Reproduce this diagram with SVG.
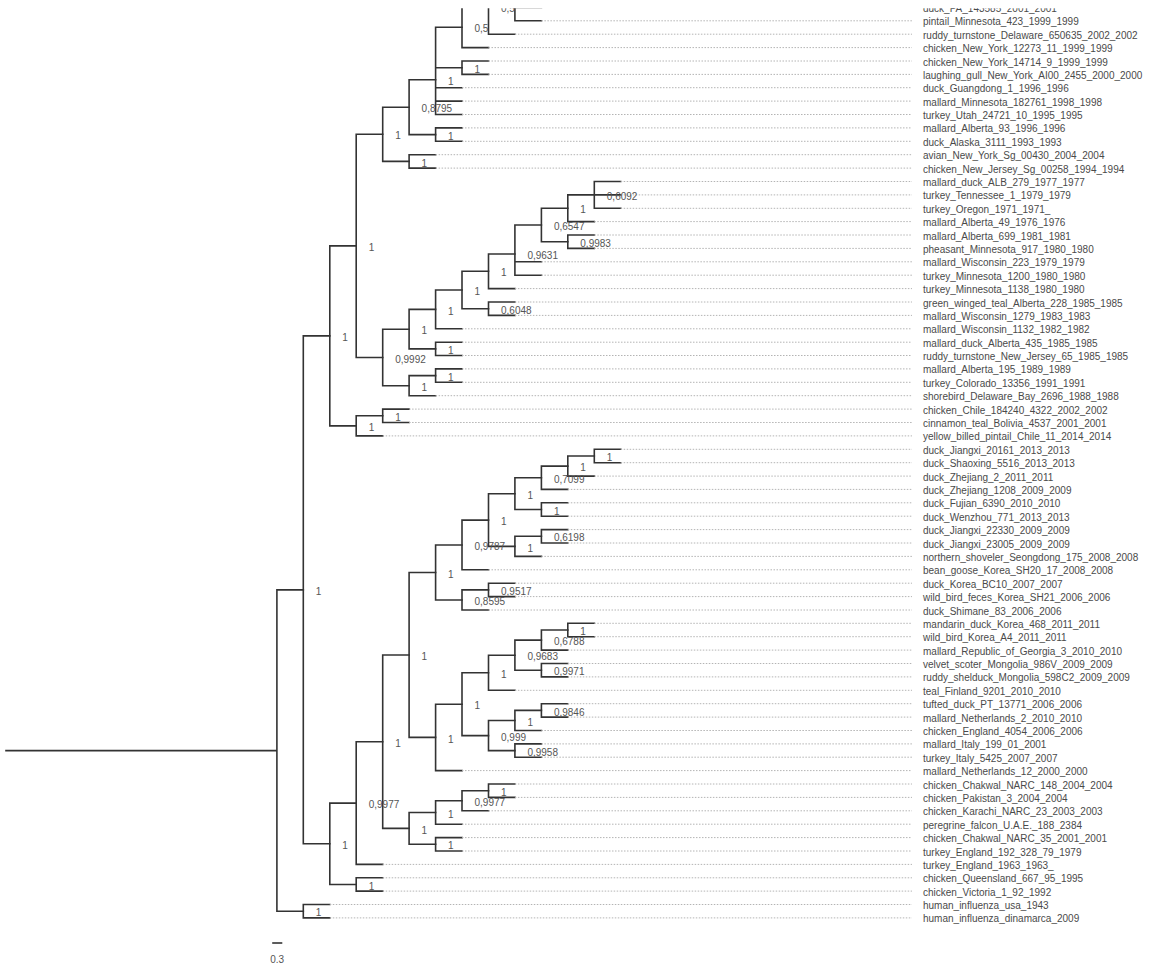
<svg xmlns="http://www.w3.org/2000/svg" width="1151" height="970" viewBox="0 0 1151 970">
<style>
.br{fill:none;stroke:#333;stroke-width:1.6;stroke-linecap:square}
.dt{fill:none;stroke:#b4b4b4;stroke-width:1;stroke-dasharray:1.5 1.5}
.tl{font-family:"Liberation Sans",Arial,sans-serif;font-size:10px;fill:#4a4a4a}
.nl{font-family:"Liberation Sans",Arial,sans-serif;font-size:10px;fill:#555}
</style>
<defs><clipPath id="cut"><rect x="0" y="8.2" width="1151" height="962"/></clipPath></defs>
<rect width="1151" height="970" fill="#fff"/>
<g clip-path="url(#cut)">
<g id="connectors">
<path class="br" d="M6,750.6H276.9 M276.9,589.9V911.2 M276.9,589.9H303.3 M276.9,911.2H303.3"/>
<path class="br" d="M303.3,904.5V917.9 M303.3,904.5H329.8 M303.3,917.9H329.8"/>
<path class="br" d="M303.3,335.9V843.8 M303.3,335.9H329.8 M303.3,843.8H329.8"/>
<path class="br" d="M329.8,245.9V425.9 M329.8,245.9H356.2 M329.8,425.9H356.2"/>
<path class="br" d="M356.2,134.3V357.5 M356.2,134.3H382.7 M356.2,357.5H382.7"/>
<path class="br" d="M356.2,415.8V435.9 M356.2,415.8H382.7 M356.2,435.9H382.7"/>
<path class="br" d="M382.7,409.1V422.5 M382.7,409.1H409.1 M382.7,422.5H409.1"/>
<path class="br" d="M382.7,107.2V161.4 M382.7,107.2H409.1 M382.7,161.4H409.1"/>
<path class="br" d="M409.1,154.7V168.1 M409.1,154.7H435.6 M409.1,168.1H435.6"/>
<path class="br" d="M409.1,79.7V134.6 M409.1,79.7H435.6 M409.1,134.6H435.6"/>
<path class="br" d="M435.6,127.9V141.3 M435.6,127.9H462 M435.6,141.3H462"/>
<path class="br" d="M435.6,27.3V114.5 M435.6,27.3H462 M435.6,67.7H462 M435.6,87.7H462 M435.6,101.1H462 M435.6,114.5H462"/>
<path class="br" d="M462,61V74.4 M462,61H488.5 M462,74.4H488.5"/>
<path class="br" d="M462,7V47.6 M462,7H488.5 M462,47.6H488.5"/>
<path class="br" d="M488.5,-20.2V34.2 M488.5,-20.2H514.9 M488.5,34.2H514.9"/>
<path class="br" d="M514.9,-60V20.8 M514.9,7.4H541.4 M514.9,20.8H541.4"/>
<path class="br" d="M382.7,329.2V385.7 M382.7,329.2H409.1 M382.7,385.7H409.1"/>
<path class="br" d="M409.1,375.6V395.7 M409.1,375.6H435.6 M409.1,395.7H435.6"/>
<path class="br" d="M435.6,368.9V382.3 M435.6,368.9H462 M435.6,382.3H462"/>
<path class="br" d="M409.1,309.4V348.9 M409.1,309.4H435.6 M409.1,348.9H435.6"/>
<path class="br" d="M435.6,342.2V355.5 M435.6,342.2H462 M435.6,355.5H462"/>
<path class="br" d="M435.6,290V328.8 M435.6,290H462 M435.6,328.8H462"/>
<path class="br" d="M462,271.3V308.7 M462,271.3H488.5 M462,308.7H488.5"/>
<path class="br" d="M488.5,302V315.4 M488.5,302H514.9 M488.5,315.4H514.9"/>
<path class="br" d="M488.5,254V288.6 M488.5,254H514.9 M488.5,288.6H514.9"/>
<path class="br" d="M514.9,225V275.2 M514.9,225H541.4 M514.9,261.8H541.4 M514.9,275.2H541.4"/>
<path class="br" d="M541.4,208.3V241.7 M541.4,208.3H567.8 M541.4,241.7H567.8"/>
<path class="br" d="M567.8,235V248.4 M567.8,235H594.3 M567.8,248.4H594.3"/>
<path class="br" d="M567.8,194.9V221.6 M567.8,194.9H594.3 M567.8,221.6H594.3"/>
<path class="br" d="M594.3,181.5V208.3 M594.3,181.5H620.7 M594.3,194.9H620.7 M594.3,208.3H620.7"/>
<path class="br" d="M329.8,803.1V884.5 M329.8,803.1H356.2 M329.8,884.5H356.2"/>
<path class="br" d="M356.2,877.8V891.1 M356.2,877.8H382.7 M356.2,891.1H382.7"/>
<path class="br" d="M356.2,741.7V864.4 M356.2,741.7H382.7 M356.2,864.4H382.7"/>
<path class="br" d="M382.7,655V828.4 M382.7,655H409.1 M382.7,828.4H409.1"/>
<path class="br" d="M409.1,812.5V844.3 M409.1,812.5H435.6 M409.1,844.3H435.6"/>
<path class="br" d="M435.6,837.6V851 M435.6,837.6H462 M435.6,851H462"/>
<path class="br" d="M435.6,800.8V824.2 M435.6,800.8H462 M435.6,824.2H462"/>
<path class="br" d="M462,790.7V810.8 M462,790.7H488.5 M462,810.8H488.5"/>
<path class="br" d="M488.5,784V797.4 M488.5,784H514.9 M488.5,797.4H514.9"/>
<path class="br" d="M409.1,572.5V737.4 M409.1,572.5H435.6 M409.1,737.4H435.6"/>
<path class="br" d="M435.6,545V600 M435.6,545H462 M435.6,600H462"/>
<path class="br" d="M462,589.9V610 M462,589.9H488.5 M462,610H488.5"/>
<path class="br" d="M488.5,583.2V596.6 M488.5,583.2H514.9 M488.5,596.6H514.9"/>
<path class="br" d="M462,520.1V569.8 M462,520.1H488.5 M462,569.8H488.5"/>
<path class="br" d="M488.5,493.7V546.4 M488.5,493.7H514.9 M488.5,546.4H514.9"/>
<path class="br" d="M514.9,536.3V556.4 M514.9,536.3H541.4 M514.9,556.4H541.4"/>
<path class="br" d="M541.4,529.6V543 M541.4,529.6H567.8 M541.4,543H567.8"/>
<path class="br" d="M514.9,477.8V509.5 M514.9,477.8H541.4 M514.9,509.5H541.4"/>
<path class="br" d="M541.4,502.8V516.2 M541.4,502.8H567.8 M541.4,516.2H567.8"/>
<path class="br" d="M541.4,466.1V489.4 M541.4,466.1H567.8 M541.4,489.4H567.8"/>
<path class="br" d="M567.8,456V476.1 M567.8,456H594.3 M567.8,476.1H594.3"/>
<path class="br" d="M594.3,449.3V462.7 M594.3,449.3H620.7 M594.3,462.7H620.7"/>
<path class="br" d="M435.6,704.2V770.6 M435.6,704.2H462 M435.6,770.6H462"/>
<path class="br" d="M462,672.8V735.6 M462,672.8H488.5 M462,735.6H488.5"/>
<path class="br" d="M488.5,720.5V750.6 M488.5,720.5H514.9 M488.5,750.6H514.9"/>
<path class="br" d="M514.9,743.9V757.2 M514.9,743.9H541.4 M514.9,757.2H541.4"/>
<path class="br" d="M514.9,710.4V730.5 M514.9,710.4H541.4 M514.9,730.5H541.4"/>
<path class="br" d="M541.4,703.7V717.1 M541.4,703.7H567.8 M541.4,717.1H567.8"/>
<path class="br" d="M488.5,655.2V690.3 M488.5,655.2H514.9 M488.5,690.3H514.9"/>
<path class="br" d="M514.9,640.1V670.2 M514.9,640.1H541.4 M514.9,670.2H541.4"/>
<path class="br" d="M541.4,663.5V676.9 M541.4,663.5H567.8 M541.4,676.9H567.8"/>
<path class="br" d="M541.4,630V650.1 M541.4,630H567.8 M541.4,650.1H567.8"/>
<path class="br" d="M567.8,623.3V636.7 M567.8,623.3H594.3 M567.8,636.7H594.3"/>
<path class="dt" d="M541.4,7.4H912 M541.4,20.8H912 M514.9,34.2H912 M488.5,47.6H912 M488.5,61H912 M488.5,74.4H912 M462,87.7H912 M462,101.1H912 M462,114.5H912 M462,127.9H912 M462,141.3H912 M435.6,154.7H912 M435.6,168.1H912 M620.7,181.5H912 M620.7,194.9H912 M620.7,208.3H912 M594.3,221.6H912 M594.3,235H912 M594.3,248.4H912 M541.4,261.8H912 M541.4,275.2H912 M514.9,288.6H912 M514.9,302H912 M514.9,315.4H912 M462,328.8H912 M462,342.2H912 M462,355.5H912 M462,368.9H912 M462,382.3H912 M435.6,395.7H912 M409.1,409.1H912 M409.1,422.5H912 M382.7,435.9H912 M620.7,449.3H912 M620.7,462.7H912 M594.3,476.1H912 M567.8,489.4H912 M567.8,502.8H912 M567.8,516.2H912 M567.8,529.6H912 M567.8,543H912 M541.4,556.4H912 M488.5,569.8H912 M514.9,583.2H912 M514.9,596.6H912 M488.5,610H912 M594.3,623.3H912 M594.3,636.7H912 M567.8,650.1H912 M567.8,663.5H912 M567.8,676.9H912 M514.9,690.3H912 M567.8,703.7H912 M567.8,717.1H912 M541.4,730.5H912 M541.4,743.9H912 M541.4,757.2H912 M462,770.6H912 M514.9,784H912 M514.9,797.4H912 M488.5,810.8H912 M462,824.2H912 M462,837.6H912 M462,851H912 M382.7,864.4H912 M382.7,877.8H912 M382.7,891.1H912 M329.8,904.5H912 M329.8,917.9H912"/>
</g>
<g id="nodes">
<g id="n-b"><text class="nl" x="501" y="12.1">0,5</text></g>
<g id="n-c"><text class="nl" x="474.5" y="32.4">0,5</text></g>
<g id="n-d"><text class="nl" x="474.5" y="72.8">1</text></g>
<g id="n-e"><text class="nl" x="448.1" y="84.8">1</text></g>
<g id="n-f"><text class="nl" x="448.1" y="139.7">1</text></g>
<g id="n-g"><text class="nl" x="421.6" y="112.3">0,8795</text></g>
<g id="n-h"><text class="nl" x="421.6" y="166.5">1</text></g>
<g id="n-i"><text class="nl" x="395.2" y="139.4">1</text></g>
<g id="n-j"><text class="nl" x="606.8" y="200">0,6092</text></g>
<g id="n-k"><text class="nl" x="580.3" y="213.4">1</text></g>
<g id="n-l"><text class="nl" x="580.3" y="246.8">0,9983</text></g>
<g id="n-m"><text class="nl" x="553.9" y="230.1">0,6547</text></g>
<g id="n-n"><text class="nl" x="527.4" y="259.1">0,9631</text></g>
<g id="n-o"><text class="nl" x="501" y="276.4">1</text></g>
<g id="n-p"><text class="nl" x="501" y="313.8">0,6048</text></g>
<g id="n-q"><text class="nl" x="474.5" y="295.1">1</text></g>
<g id="n-r"><text class="nl" x="448.1" y="314.5">1</text></g>
<g id="n-s"><text class="nl" x="448.1" y="354">1</text></g>
<g id="n-t"><text class="nl" x="421.6" y="334.3">1</text></g>
<g id="n-u"><text class="nl" x="448.1" y="380.7">1</text></g>
<g id="n-v"><text class="nl" x="421.6" y="390.8">1</text></g>
<g id="n-w"><text class="nl" x="395.2" y="362.6">0,9992</text></g>
<g id="n-x"><text class="nl" x="368.7" y="251">1</text></g>
<g id="n-y"><text class="nl" x="395.2" y="420.9">1</text></g>
<g id="n-z"><text class="nl" x="368.7" y="431">1</text></g>
<g id="n-U"><text class="nl" x="342.3" y="341">1</text></g>
<g id="n-P"><text class="nl" x="606.8" y="461.1">1</text></g>
<g id="n-Q"><text class="nl" x="580.3" y="471.2">1</text></g>
<g id="n-R"><text class="nl" x="553.9" y="482.9">0,7099</text></g>
<g id="n-S"><text class="nl" x="553.9" y="514.6">1</text></g>
<g id="n-N"><text class="nl" x="527.4" y="498.8">1</text></g>
<g id="n-T"><text class="nl" x="553.9" y="541.4">0,6198</text></g>
<g id="n-O"><text class="nl" x="527.4" y="551.5">1</text></g>
<g id="n-M"><text class="nl" x="501" y="525.2">1</text></g>
<g id="n-K"><text class="nl" x="474.5" y="550.1">0,9787</text></g>
<g id="n-L7"><text class="nl" x="501" y="595">0,9517</text></g>
<g id="n-L"><text class="nl" x="474.5" y="605.1">0,8595</text></g>
<g id="n-I"><text class="nl" x="448.1" y="577.6">1</text></g>
<g id="n-Z1"><text class="nl" x="580.3" y="635.1">1</text></g>
<g id="n-Z2"><text class="nl" x="553.9" y="645.2">0,6788</text></g>
<g id="n-Z3"><text class="nl" x="553.9" y="675.3">0,9971</text></g>
<g id="n-Z"><text class="nl" x="527.4" y="660.3">0,9683</text></g>
<g id="n-X"><text class="nl" x="501" y="677.9">1</text></g>
<g id="n-A1"><text class="nl" x="553.9" y="715.5">0,9846</text></g>
<g id="n-AA"><text class="nl" x="527.4" y="725.6">1</text></g>
<g id="n-AB"><text class="nl" x="527.4" y="755.7">0,9958</text></g>
<g id="n-Y"><text class="nl" x="501" y="740.7">0,999</text></g>
<g id="n-W"><text class="nl" x="474.5" y="709.3">1</text></g>
<g id="n-J"><text class="nl" x="448.1" y="742.5">1</text></g>
<g id="n-G"><text class="nl" x="421.6" y="660.1">1</text></g>
<g id="n-H7"><text class="nl" x="501" y="795.8">1</text></g>
<g id="n-H6"><text class="nl" x="474.5" y="805.9">0,9977</text></g>
<g id="n-H5"><text class="nl" x="448.1" y="817.6">1</text></g>
<g id="n-H5b"><text class="nl" x="448.1" y="849.4">1</text></g>
<g id="n-H"><text class="nl" x="421.6" y="833.5">1</text></g>
<g id="n-F"><text class="nl" x="395.2" y="746.8">1</text></g>
<g id="n-D"><text class="nl" x="368.7" y="808.2">0,9977</text></g>
<g id="n-E"><text class="nl" x="368.7" y="889.6">1</text></g>
<g id="n-C"><text class="nl" x="342.3" y="848.9">1</text></g>
<g id="n-B"><text class="nl" x="315.8" y="595">1</text></g>
<g id="n-Hum"><text class="nl" x="315.8" y="916.3">1</text></g>
</g>
<g id="tips">
<g id="t0"><text class="tl" x="923" y="11.9">duck_PA_143585_2001_2001</text></g>
<g id="t1"><text class="tl" x="923" y="25.3">pintail_Minnesota_423_1999_1999</text></g>
<g id="t2"><text class="tl" x="923" y="38.7">ruddy_turnstone_Delaware_650635_2002_2002</text></g>
<g id="t3"><text class="tl" x="923" y="52.1">chicken_New_York_12273_11_1999_1999</text></g>
<g id="t4"><text class="tl" x="923" y="65.5">chicken_New_York_14714_9_1999_1999</text></g>
<g id="t5"><text class="tl" x="923" y="78.9">laughing_gull_New_York_AI00_2455_2000_2000</text></g>
<g id="t6"><text class="tl" x="923" y="92.2">duck_Guangdong_1_1996_1996</text></g>
<g id="t7"><text class="tl" x="923" y="105.6">mallard_Minnesota_182761_1998_1998</text></g>
<g id="t8"><text class="tl" x="923" y="119">turkey_Utah_24721_10_1995_1995</text></g>
<g id="t9"><text class="tl" x="923" y="132.4">mallard_Alberta_93_1996_1996</text></g>
<g id="t10"><text class="tl" x="923" y="145.8">duck_Alaska_3111_1993_1993</text></g>
<g id="t11"><text class="tl" x="923" y="159.2">avian_New_York_Sg_00430_2004_2004</text></g>
<g id="t12"><text class="tl" x="923" y="172.6">chicken_New_Jersey_Sg_00258_1994_1994</text></g>
<g id="t13"><text class="tl" x="923" y="186">mallard_duck_ALB_279_1977_1977</text></g>
<g id="t14"><text class="tl" x="923" y="199.4">turkey_Tennessee_1_1979_1979</text></g>
<g id="t15"><text class="tl" x="923" y="212.8">turkey_Oregon_1971_1971_</text></g>
<g id="t16"><text class="tl" x="923" y="226.1">mallard_Alberta_49_1976_1976</text></g>
<g id="t17"><text class="tl" x="923" y="239.5">mallard_Alberta_699_1981_1981</text></g>
<g id="t18"><text class="tl" x="923" y="252.9">pheasant_Minnesota_917_1980_1980</text></g>
<g id="t19"><text class="tl" x="923" y="266.3">mallard_Wisconsin_223_1979_1979</text></g>
<g id="t20"><text class="tl" x="923" y="279.7">turkey_Minnesota_1200_1980_1980</text></g>
<g id="t21"><text class="tl" x="923" y="293.1">turkey_Minnesota_1138_1980_1980</text></g>
<g id="t22"><text class="tl" x="923" y="306.5">green_winged_teal_Alberta_228_1985_1985</text></g>
<g id="t23"><text class="tl" x="923" y="319.9">mallard_Wisconsin_1279_1983_1983</text></g>
<g id="t24"><text class="tl" x="923" y="333.3">mallard_Wisconsin_1132_1982_1982</text></g>
<g id="t25"><text class="tl" x="923" y="346.7">mallard_duck_Alberta_435_1985_1985</text></g>
<g id="t26"><text class="tl" x="923" y="360">ruddy_turnstone_New_Jersey_65_1985_1985</text></g>
<g id="t27"><text class="tl" x="923" y="373.4">mallard_Alberta_195_1989_1989</text></g>
<g id="t28"><text class="tl" x="923" y="386.8">turkey_Colorado_13356_1991_1991</text></g>
<g id="t29"><text class="tl" x="923" y="400.2">shorebird_Delaware_Bay_2696_1988_1988</text></g>
<g id="t30"><text class="tl" x="923" y="413.6">chicken_Chile_184240_4322_2002_2002</text></g>
<g id="t31"><text class="tl" x="923" y="427">cinnamon_teal_Bolivia_4537_2001_2001</text></g>
<g id="t32"><text class="tl" x="923" y="440.4">yellow_billed_pintail_Chile_11_2014_2014</text></g>
<g id="t33"><text class="tl" x="923" y="453.8">duck_Jiangxi_20161_2013_2013</text></g>
<g id="t34"><text class="tl" x="923" y="467.2">duck_Shaoxing_5516_2013_2013</text></g>
<g id="t35"><text class="tl" x="923" y="480.6">duck_Zhejiang_2_2011_2011</text></g>
<g id="t36"><text class="tl" x="923" y="493.9">duck_Zhejiang_1208_2009_2009</text></g>
<g id="t37"><text class="tl" x="923" y="507.3">duck_Fujian_6390_2010_2010</text></g>
<g id="t38"><text class="tl" x="923" y="520.7">duck_Wenzhou_771_2013_2013</text></g>
<g id="t39"><text class="tl" x="923" y="534.1">duck_Jiangxi_22330_2009_2009</text></g>
<g id="t40"><text class="tl" x="923" y="547.5">duck_Jiangxi_23005_2009_2009</text></g>
<g id="t41"><text class="tl" x="923" y="560.9">northern_shoveler_Seongdong_175_2008_2008</text></g>
<g id="t42"><text class="tl" x="923" y="574.3">bean_goose_Korea_SH20_17_2008_2008</text></g>
<g id="t43"><text class="tl" x="923" y="587.7">duck_Korea_BC10_2007_2007</text></g>
<g id="t44"><text class="tl" x="923" y="601.1">wild_bird_feces_Korea_SH21_2006_2006</text></g>
<g id="t45"><text class="tl" x="923" y="614.5">duck_Shimane_83_2006_2006</text></g>
<g id="t46"><text class="tl" x="923" y="627.8">mandarin_duck_Korea_468_2011_2011</text></g>
<g id="t47"><text class="tl" x="923" y="641.2">wild_bird_Korea_A4_2011_2011</text></g>
<g id="t48"><text class="tl" x="923" y="654.6">mallard_Republic_of_Georgia_3_2010_2010</text></g>
<g id="t49"><text class="tl" x="923" y="668">velvet_scoter_Mongolia_986V_2009_2009</text></g>
<g id="t50"><text class="tl" x="923" y="681.4">ruddy_shelduck_Mongolia_598C2_2009_2009</text></g>
<g id="t51"><text class="tl" x="923" y="694.8">teal_Finland_9201_2010_2010</text></g>
<g id="t52"><text class="tl" x="923" y="708.2">tufted_duck_PT_13771_2006_2006</text></g>
<g id="t53"><text class="tl" x="923" y="721.6">mallard_Netherlands_2_2010_2010</text></g>
<g id="t54"><text class="tl" x="923" y="735">chicken_England_4054_2006_2006</text></g>
<g id="t55"><text class="tl" x="923" y="748.4">mallard_Italy_199_01_2001</text></g>
<g id="t56"><text class="tl" x="923" y="761.7">turkey_Italy_5425_2007_2007</text></g>
<g id="t57"><text class="tl" x="923" y="775.1">mallard_Netherlands_12_2000_2000</text></g>
<g id="t58"><text class="tl" x="923" y="788.5">chicken_Chakwal_NARC_148_2004_2004</text></g>
<g id="t59"><text class="tl" x="923" y="801.9">chicken_Pakistan_3_2004_2004</text></g>
<g id="t60"><text class="tl" x="923" y="815.3">chicken_Karachi_NARC_23_2003_2003</text></g>
<g id="t61"><text class="tl" x="923" y="828.7">peregrine_falcon_U.A.E._188_2384</text></g>
<g id="t62"><text class="tl" x="923" y="842.1">chicken_Chakwal_NARC_35_2001_2001</text></g>
<g id="t63"><text class="tl" x="923" y="855.5">turkey_England_192_328_79_1979</text></g>
<g id="t64"><text class="tl" x="923" y="868.9">turkey_England_1963_1963_</text></g>
<g id="t65"><text class="tl" x="923" y="882.3">chicken_Queensland_667_95_1995</text></g>
<g id="t66"><text class="tl" x="923" y="895.6">chicken_Victoria_1_92_1992</text></g>
<g id="t67"><text class="tl" x="923" y="909">human_influenza_usa_1943</text></g>
<g id="t68"><text class="tl" x="923" y="922.4">human_influenza_dinamarca_2009</text></g>
</g>
<g id="scale">
<path class="br" d="M273,943H281.5"/>
<text class="nl" x="277.2" y="962.5" text-anchor="middle">0.3</text>
</g>
</g>
</svg>
